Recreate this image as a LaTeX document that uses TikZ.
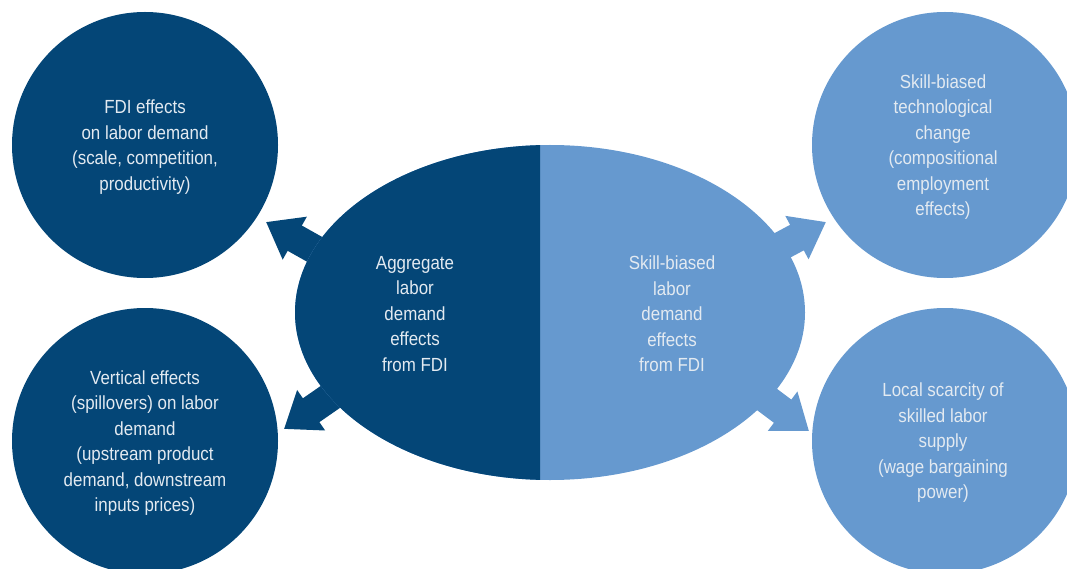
\documentclass[tikz,border=0pt]{standalone}
\usepackage{fontspec}
\setmainfont{Liberation Sans}[FakeStretch=0.89]
\usetikzlibrary{arrows.meta}
\definecolor{dblue}{HTML}{044677}
\definecolor{lblue}{HTML}{6699CF}
\definecolor{txtc}{HTML}{E3EAF1}
\begin{document}
\begin{tikzpicture}[x=1pt,y=-1pt,
  lbl/.style={text=txtc, align=center, inner sep=0pt, font=\fontsize{19}{25.5}\selectfont},
  circ/.style={lbl, circle, minimum size=266pt},
  blk/.style={line width=29pt, -{Triangle[length=33pt,width=47pt]}}]
\useasboundingbox (0,0) rectangle (1067,569);
% circles
\node[circ, fill=dblue] (c1) at (145,145) {};
\node[lbl] (c1t) at (145,147) {FDI effects\\on labor demand\\(scale, competition,\\productivity)};
\node[circ, fill=dblue] (c3) at (145,441) {};
\node[lbl] (c3t) at (145,443) {Vertical effects\\(spillovers) on labor\\demand\\(upstream product\\demand, downstream\\inputs prices)};
\node[circ, fill=lblue] (c2) at (945,145) {};
\node[lbl] (c2t) at (943,147) {Skill-biased\\technological\\change\\(compositional\\employment\\effects)};
\node[circ, fill=lblue] (c4) at (945,441) {};
\node[lbl] (c4t) at (943,443) {Local scarcity of\\skilled labor\\supply\\(wage bargaining\\power)};
% arrow end points
\coordinate (s1) at (362,276); \coordinate (t1) at (266,222);
\coordinate (s3) at (375,366); \coordinate (t3) at (284,429);
\coordinate (s2) at (729,274); \coordinate (t2) at (826,222);
\coordinate (s4) at (721,365); \coordinate (t4) at (809,431);
\draw[blk, dblue] (s1) -- (t1);
\draw[blk, dblue] (s3) -- (t3);
\draw[blk, lblue] (s2) -- (t2);
\draw[blk, lblue] (s4) -- (t4);
% central ellipse
\fill[lblue] (550,312.5) ellipse [x radius=255, y radius=167.5];
\begin{scope}
\clip (0,0) rectangle (540,569);
\fill[dblue] (550,312.5) ellipse [x radius=255, y radius=167.5];
\end{scope}
\node[lbl] (agg) at (415,314) {Aggregate\\labor\\demand\\effects\\from FDI};
\node[lbl] (skl) at (672,314) {Skill-biased\\labor\\demand\\effects\\from FDI};
\end{tikzpicture}
\end{document}
